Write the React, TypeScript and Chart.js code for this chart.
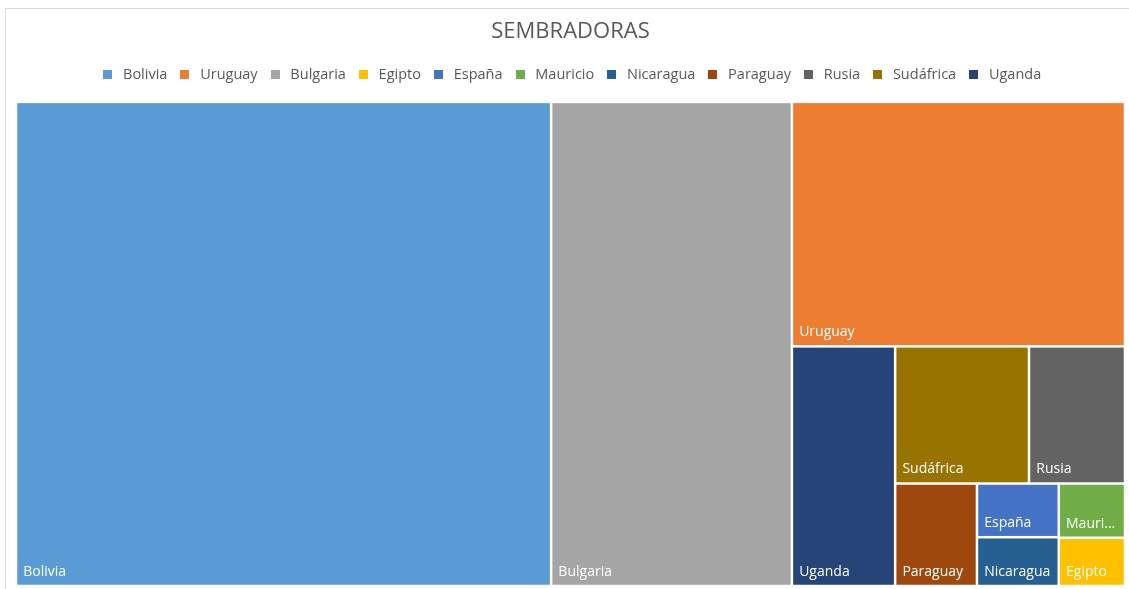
import React, { useEffect, useRef } from 'react';
import { Chart, registerables } from 'chart.js';

Chart.register(...registerables);

// ---- data ----
const chartTitle = 'SEMBRADORAS';
const countries = ['Bolivia', 'Uruguay', 'Bulgaria', 'Egipto', 'España', 'Mauricio', 'Nicaragua', 'Paraguay', 'Rusia', 'Sudáfrica', 'Uganda'];
const values = [649, 204, 292, 8, 11, 9, 10, 21, 33, 46, 62];
const colors = ['#5B9BD5', '#ED7D31', '#A5A5A5', '#FFC000', '#4472C4', '#70AD47', '#255E91', '#9E480E', '#636363', '#997300', '#264478'];

// a row only grows when it clearly improves squareness (keeps Excel-like strips)
const ROW_HYSTERESIS = 1.37;

type Cell = { index: number; x0: number; y0: number; x1: number; y1: number };

function worstRatio(row: number[], side: number): number {
  const sum = row.reduce((a, b) => a + b, 0);
  const thick = sum / side;
  let worst = 0;
  for (const a of row) {
    const len = a / thick;
    worst = Math.max(worst, thick / len, len / thick);
  }
  return worst;
}

function squarify(vals: number[], x0: number, y0: number, x1: number, y1: number): Cell[] {
  const order = vals.map((_, i) => i).sort((a, b) => vals[b] - vals[a]);
  const total = vals.reduce((a, b) => a + b, 0);
  const k = ((x1 - x0) * (y1 - y0)) / total;
  const areas = order.map((i) => vals[i] * k);
  const cells: Cell[] = [];
  let rx = x0, ry = y0, rw = x1 - x0, rh = y1 - y0;
  let i = 0;
  while (i < areas.length) {
    const vertical = rw >= rh;
    const side = vertical ? rh : rw;
    let row = [areas[i]];
    let cur = worstRatio(row, side);
    let j = i + 1;
    while (j < areas.length) {
      const cand = [...row, areas[j]];
      const w2 = worstRatio(cand, side);
      if (w2 * ROW_HYSTERESIS < cur) {
        row = cand;
        cur = w2;
        j++;
      } else break;
    }
    const sum = row.reduce((a, b) => a + b, 0);
    const thick = sum / side;
    let pos = vertical ? ry : rx;
    row.forEach((a, n) => {
      const len = a / thick;
      const idx = order[i + n];
      if (vertical) {
        cells.push({ index: idx, x0: rx, y0: pos, x1: rx + thick, y1: pos + len });
      } else {
        cells.push({ index: idx, x0: pos, y0: ry, x1: pos + len, y1: ry + thick });
      }
      pos += len;
    });
    if (vertical) { rx += thick; rw -= thick; } else { ry += thick; rh -= thick; }
    i = j;
  }
  return cells;
}

function fitText(ctx: CanvasRenderingContext2D, text: string, maxW: number): string {
  if (ctx.measureText(text).width <= maxW) return text;
  for (let n = text.length - 1; n > 0; n--) {
    const t = text.slice(0, n) + '...';
    if (ctx.measureText(t).width <= maxW) return t;
  }
  return '';
}

const treemapPlugin = {
  id: 'treemapCells',
  beforeDatasetsDraw(chart: any) {
    const xs = chart.scales.x;
    const ys = chart.scales.y;
    const left = xs.getPixelForValue(xs.min);
    const right = xs.getPixelForValue(xs.max);
    const top = ys.getPixelForValue(ys.max);
    const bottom = ys.getPixelForValue(ys.min);
    const cells = squarify(values, left, top, right, bottom);
    const ctx: CanvasRenderingContext2D = chart.ctx;
    const gap = 1.25;
    ctx.save();
    ctx.font = "14px 'Open Sans', sans-serif";
    ctx.textAlign = 'left';
    ctx.textBaseline = 'alphabetic';
    for (const c of cells) {
      const x = c.x0 + gap, y = c.y0 + gap;
      const w = c.x1 - c.x0 - 2 * gap, h = c.y1 - c.y0 - 2 * gap;
      ctx.fillStyle = colors[c.index];
      ctx.fillRect(x, y, w, h);
      const label = fitText(ctx, countries[c.index], w - 8);
      ctx.fillStyle = '#FFFFFF';
      ctx.fillText(label, x + 6, y + h - 9);
    }
    ctx.restore();
  },
};

const legendSpacer = {
  id: 'legendSpacer',
  beforeInit(chart: any) {
    const lg = chart.legend;
    if (!lg) return;
    const fit = lg.fit;
    lg.fit = function () {
      fit.call(this);
      this.height += 10;
    };
  },
};

function makeSwatch(color: string): HTMLCanvasElement {
  const c = document.createElement('canvas');
  c.width = 9;
  c.height = 9;
  const g = c.getContext('2d');
  if (g) {
    g.fillStyle = color;
    g.fillRect(0, 0, 9, 9);
  }
  return c;
}

export default function App() {
  const ref = useRef<HTMLCanvasElement | null>(null);

  useEffect(() => {
    if (!ref.current) return;
    Chart.defaults.font.family = "'Open Sans', sans-serif";
    const swatches = colors.map(makeSwatch);
    const chart = new Chart(ref.current, {
      type: 'scatter',
      data: {
        datasets: countries.map((c, i) => ({
          label: c,
          data: [],
          backgroundColor: colors[i],
          borderColor: colors[i],
        })),
      },
      options: {
        responsive: false,
        animation: false,
        devicePixelRatio: 1,
        events: [],
        layout: { padding: { left: 16, right: 4, top: 0, bottom: 3 } },
        scales: {
          x: { type: 'linear', min: 0, max: 100, display: false },
          y: { type: 'linear', min: 0, max: 100, display: false },
        },
        plugins: {
          tooltip: { enabled: false },
          title: {
            display: true,
            text: chartTitle,
            color: '#595959',
            font: { size: 22, weight: 'normal' },
            padding: { top: 19, bottom: 12.5 },
          },
          legend: {
            display: true,
            position: 'top',
            labels: {
              usePointStyle: true,
              pointStyleWidth: 16,
              boxHeight: 9,
              padding: 9.5,
              color: '#595959',
              font: { size: 14.5 },
              generateLabels: () =>
                countries.map((c, i) => ({
                  text: c,
                  fillStyle: colors[i],
                  strokeStyle: colors[i],
                  lineWidth: 0,
                  hidden: false,
                  datasetIndex: i,
                  pointStyle: swatches[i],
                  fontColor: '#595959',
                })),
            },
          },
        },
      },
      plugins: [treemapPlugin, legendSpacer],
    } as any);
    return () => chart.destroy();
  }, []);

  return (
    <div style={{ position: 'fixed', left: 0, top: 0, width: 1129, height: 589, overflow: 'hidden', background: '#FFFFFF' }}>
      <div
        style={{
          position: 'absolute',
          left: 5,
          top: 8,
          width: 1200,
          height: 700,
          border: '1px solid #D9D9D9',
          boxSizing: 'border-box',
        }}
      />
      <canvas ref={ref} width={1129} height={589} style={{ position: 'absolute', left: 0, top: 0 }} />
    </div>
  );
}
